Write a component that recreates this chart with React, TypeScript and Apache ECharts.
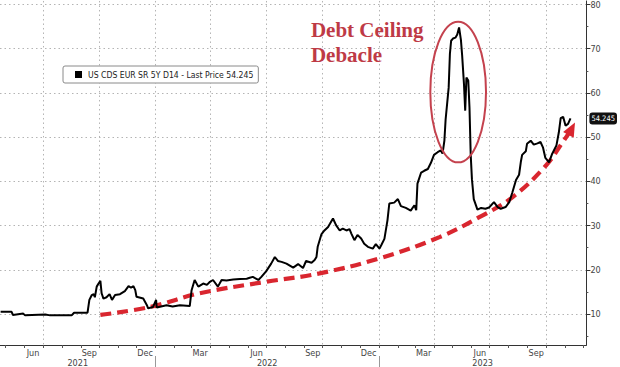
import React, { useEffect, useRef } from "react";
import * as echarts from "echarts";

// ---- data ----
const seriesName = "US CDS EUR SR 5Y D14 - Last Price 54.245";
const lastPrice = 54.245;

const dates = [
  "2021-04-23", "2021-05-11", "2021-05-13", "2021-05-30", "2021-06-02", "2021-07-05", "2021-07-13",
  "2021-08-17", "2021-08-21", "2021-09-12", "2021-09-15", "2021-09-19", "2021-09-22", "2021-09-24",
  "2021-09-27", "2021-09-30", "2021-10-03", "2021-10-05", "2021-10-08", "2021-10-13", "2021-10-18",
  "2021-10-22", "2021-10-27", "2021-11-04", "2021-11-12", "2021-11-18", "2021-11-22", "2021-11-26",
  "2021-11-29", "2021-12-01", "2021-12-12", "2021-12-18", "2021-12-20", "2021-12-28", "2022-01-02",
  "2022-01-03", "2022-01-19", "2022-01-29", "2022-02-10", "2022-02-26", "2022-03-01", "2022-03-06",
  "2022-03-12", "2022-03-20", "2022-03-26", "2022-03-31", "2022-04-05", "2022-04-13", "2022-04-19",
  "2022-04-27", "2022-05-08", "2022-05-19", "2022-05-30", "2022-06-04", "2022-06-09", "2022-06-18",
  "2022-06-23", "2022-07-01", "2022-07-09", "2022-07-15", "2022-07-20", "2022-07-26", "2022-08-03",
  "2022-08-14", "2022-08-22", "2022-08-30", "2022-09-04", "2022-09-13", "2022-09-18", "2022-09-21",
  "2022-09-23", "2022-09-29", "2022-10-04", "2022-10-10", "2022-10-13", "2022-10-18", "2022-10-23",
  "2022-10-29", "2022-11-03", "2022-11-09", "2022-11-14", "2022-11-17", "2022-11-22", "2022-11-27",
  "2022-12-03", "2022-12-08", "2022-12-14", "2022-12-22", "2022-12-27", "2023-01-02", "2023-01-05",
  "2023-01-10", "2023-01-15", "2023-01-18", "2023-01-26", "2023-02-01", "2023-02-06", "2023-02-14",
  "2023-02-22", "2023-02-28", "2023-03-03", "2023-03-05", "2023-03-11", "2023-03-16", "2023-03-22",
  "2023-03-27", "2023-04-01", "2023-04-07", "2023-04-12", "2023-04-15", "2023-04-18", "2023-04-20",
  "2023-04-25", "2023-04-27", "2023-04-29", "2023-05-02", "2023-05-06", "2023-05-09", "2023-05-12",
  "2023-05-15", "2023-05-17", "2023-05-20", "2023-05-22", "2023-05-24", "2023-05-27", "2023-05-29",
  "2023-05-31", "2023-06-02", "2023-06-05", "2023-06-11", "2023-06-17", "2023-06-24", "2023-06-30",
  "2023-07-08", "2023-07-14", "2023-07-19", "2023-07-27", "2023-08-02", "2023-08-07", "2023-08-13",
  "2023-08-18", "2023-08-21", "2023-08-23", "2023-08-29", "2023-08-31", "2023-09-06", "2023-09-11",
  "2023-09-17", "2023-09-22", "2023-09-26", "2023-09-30", "2023-10-06", "2023-10-11", "2023-10-18",
  "2023-10-22", "2023-10-25", "2023-10-29", "2023-11-02", "2023-11-06", "2023-11-10",
];

const cds = [
  10.5, 10.5, 9.8, 10.1, 9.7, 9.9, 9.7,
  9.7, 10.3, 10.3, 13.2, 14.3, 14.5, 13.8,
  16.2, 16.9, 17.5, 14.7, 13.5, 13.8, 14.5,
  13.2, 14.3, 14.5, 15.2, 16.3, 16.0, 16.3,
  15.4, 13.9, 13.5, 12.0, 11.3, 11.6, 13.2,
  11.5, 12.0, 11.7, 12.0, 11.8, 15.4, 17.7,
  16.2, 16.9, 16.6, 17.3, 17.7, 16.2, 17.7,
  17.6, 17.8, 17.9, 18.0, 18.2, 18.4, 17.7,
  18.4, 19.7, 21.4, 22.9, 22.0, 21.8, 21.4,
  20.5, 21.3, 20.4, 22.0, 21.6, 22.2, 22.9,
  25.2, 28.0, 28.9, 29.7, 30.4, 31.6, 30.1,
  28.9, 29.3, 28.9, 29.2, 28.2, 26.7, 27.9,
  27.1, 25.9, 25.2, 24.8, 25.8, 24.8, 25.6,
  27.0, 31.2, 35.0, 35.2, 36.0, 34.4, 34.0,
  33.4, 34.6, 33.5, 39.5, 42.0, 42.4, 42.8,
  44.2, 46.0, 46.6, 47.0, 46.3, 49.2, 54.0,
  61.2, 68.8, 71.8, 72.3, 72.5, 73.2, 74.8,
  72.0, 68.5, 62.0, 56.0, 63.5, 62.8, 56.7,
  46.0, 40.5, 36.0, 33.6, 34.0, 33.8, 34.1,
  35.3, 34.2, 33.8, 34.2, 35.3, 37.5, 40.3,
  41.5, 44.5, 46.0, 46.8, 48.5, 49.2, 48.3,
  48.6, 48.9, 47.7, 45.3, 44.3, 46.2, 48.1,
  51.1, 54.3, 54.6, 52.6, 53.0, 54.245,
];

// red dashed trend arrow (annotation curve)
const trendDates = [
  "2021-10-03", "2021-12-23", "2022-03-14", "2022-07-01", "2022-09-26", "2023-01-02",
  "2023-04-10", "2023-06-14", "2023-08-07", "2023-10-01", "2023-10-28", "2023-11-12",
];
const trendValues = [9.8, 11.6, 14.7, 17.3, 19.2, 22.6, 27.4, 31.9, 36.4, 43.6, 48.8, 51.9];

const yTicks = [10, 20, 30, 40, 50, 60, 70, 80];
const yMinorTicks = [5, 15, 25, 35, 45, 55, 65, 75];
const xStart = "2021-04-22";
const xEnd = "2023-12-06";
const monthLabelDates = [
  "2021-06-15", "2021-09-15", "2021-12-15", "2022-03-15", "2022-06-15",
  "2022-09-15", "2022-12-15", "2023-03-15", "2023-06-15", "2023-09-15",
];
const monthLabelNames = ["Jun", "Sep", "Dec", "Mar", "Jun", "Sep", "Dec", "Mar", "Jun", "Sep"];
const quarterStarts = [
  "2021-07-01", "2021-10-01", "2022-01-01", "2022-04-01", "2022-07-01",
  "2022-10-01", "2023-01-01", "2023-04-01", "2023-07-01", "2023-10-01",
];
const monthStarts = [
  "2021-05-01", "2021-06-01", "2021-07-01", "2021-08-01", "2021-09-01", "2021-10-01", "2021-11-01", "2021-12-01",
  "2022-01-01", "2022-02-01", "2022-03-01", "2022-04-01", "2022-05-01", "2022-06-01", "2022-07-01", "2022-08-01",
  "2022-09-01", "2022-10-01", "2022-11-01", "2022-12-01", "2023-01-01", "2023-02-01", "2023-03-01", "2023-04-01",
  "2023-05-01", "2023-06-01", "2023-07-01", "2023-08-01", "2023-09-01", "2023-10-01", "2023-11-01", "2023-12-01",
];
const yearStarts = ["2022-01-01", "2023-01-01"];
const yearNames = ["2021", "2022", "2023"];

// annotation anchors (data coordinates)
const noteText = "Debt Ceiling\nDebacle";
const noteAnchor = { date: "2022-09-12", value: 77.0 };
const ellipseBox = { from: "2023-03-26", to: "2023-06-25", low: 44.3, high: 76.1 };

const ts = (s: string) => Date.parse(s + "T00:00:00Z");

const AXIS_FONT = "'Liberation Sans Narrow', 'DejaVu Sans Condensed', sans-serif";

export default function App() {
  const ref = useRef<HTMLDivElement>(null);

  useEffect(() => {
    if (!ref.current) return;
    const chart = echarts.init(ref.current, undefined, { renderer: "svg" });

    const xMin = ts(xStart);
    const xMax = ts(xEnd);
    const bounds = [xMin, ...yearStarts.map(ts), xMax];
    const yearCenters = yearNames.map((_, i) => Math.round((bounds[i] + bounds[i + 1]) / 2));
    const monthLabelTs = monthLabelDates.map(ts);

    const lastIdx = trendDates.length - 1;
    const trendData = trendDates.map((d, i) =>
      i === lastIdx
        ? {
            value: [ts(d), trendValues[i]],
            symbol: "triangle",
            symbolSize: [12, 14],
            symbolRotate: -28,
          }
        : { value: [ts(d), trendValues[i]], symbol: "none" }
    );

    const dotted = { color: "#b4b4b4", width: 1, type: [1.5, 3] as any };
    const baseX = { type: "value", min: xMin, max: xMax, position: "bottom", scale: true };

    chart.setOption({
      animation: false,
      backgroundColor: "#ffffff",
      grid: { left: 0, right: 32, top: 0, bottom: 22, containLabel: false },
      legend: {
        data: [seriesName],
        left: 63,
        top: 66,
        icon: "rect",
        itemWidth: 7,
        itemHeight: 7,
        itemGap: 4,
        padding: [4, 5, 4, 12],
        borderColor: "#8a8a8a",
        borderWidth: 1,
        borderRadius: 2,
        backgroundColor: "#ffffff",
        textStyle: { fontSize: 8.6, color: "#222", fontFamily: AXIS_FONT, padding: [0, 0, 0, 1] },
      },
      xAxis: [
        {
          ...baseX,
          axisLine: { show: true, lineStyle: { color: "#333", width: 1 } },
          axisTick: { show: true, customValues: monthStarts.map(ts), length: 3, lineStyle: { color: "#555" } },
          axisLabel: {
            show: true,
            customValues: monthLabelTs,
            formatter: (v: number) => {
              const i = monthLabelTs.indexOf(v);
              return i >= 0 ? monthLabelNames[i] : "";
            },
            fontSize: 9,
            color: "#444",
            fontFamily: AXIS_FONT,
            margin: 3,
          },
          splitLine: { show: false },
        },
        {
          ...baseX,
          axisLine: { show: false },
          axisTick: { show: false, customValues: quarterStarts.map(ts) },
          axisLabel: {
            show: true,
            customValues: yearCenters,
            formatter: (v: number) => {
              const i = yearCenters.indexOf(v);
              return i >= 0 ? yearNames[i] : "";
            },
            fontSize: 9,
            color: "#444",
            fontFamily: AXIS_FONT,
            margin: 13,
          },
          splitLine: { show: true, lineStyle: dotted },
        },
        {
          ...baseX,
          offset: 11,
          axisLine: { show: false },
          axisTick: { show: true, customValues: yearStarts.map(ts), length: 12, lineStyle: { color: "#999" } },
          axisLabel: { show: false },
          splitLine: { show: false },
        },
      ],
      yAxis: [
        {
          type: "value",
          min: 3,
          max: 80.8,
          position: "right",
          axisLine: { show: true, lineStyle: { color: "#333", width: 1 } },
          axisTick: { show: true, customValues: yTicks, length: 4, lineStyle: { color: "#333" } },
          axisLabel: {
            show: true,
            customValues: yTicks,
            fontSize: 9,
            color: "#444",
            fontFamily: AXIS_FONT,
            margin: 4,
          },
          splitLine: { show: true, lineStyle: dotted },
        },
        {
          type: "value",
          min: 3,
          max: 80.8,
          position: "right",
          axisLine: { show: false },
          axisTick: { show: true, customValues: yMinorTicks, length: 2, lineStyle: { color: "#555" } },
          axisLabel: {
            show: true,
            customValues: [lastPrice],
            formatter: () => String(lastPrice),
            backgroundColor: "#111",
            color: "#fff",
            fontSize: 7.5,
            fontFamily: AXIS_FONT,
            padding: [2, 2, 2, 2],
            borderRadius: 3,
            margin: 3,
          },
          splitLine: { show: false },
        },
      ],
      series: [
        {
          name: "trend",
          type: "line",
          xAxisIndex: 0,
          yAxisIndex: 0,
          data: trendData,
          smooth: 0.4,
          showSymbol: true,
          symbol: "none",
          lineStyle: { color: "#d9262f", width: 4.2, type: [11, 6] as any, cap: "butt" },
          itemStyle: { color: "#d9262f" },
          z: 3,
          silent: true,
        },
        {
          name: seriesName,
          type: "line",
          xAxisIndex: 0,
          yAxisIndex: 0,
          data: dates.map((d, i) => [ts(d), cds[i]]),
          showSymbol: false,
          symbol: "none",
          lineStyle: { color: "#000", width: 2 },
          itemStyle: { color: "#000" },
          z: 4,
        },
      ],
    });

    const finder = { xAxisIndex: 0, yAxisIndex: 0 };
    const noteP = chart.convertToPixel(finder as any, [ts(noteAnchor.date), noteAnchor.value]) as number[];
    const eA = chart.convertToPixel(finder as any, [ts(ellipseBox.from), ellipseBox.high]) as number[];
    const eB = chart.convertToPixel(finder as any, [ts(ellipseBox.to), ellipseBox.low]) as number[];

    chart.setOption({
      graphic: [
        {
          type: "ellipse",
          shape: {
            cx: (eA[0] + eB[0]) / 2,
            cy: (eA[1] + eB[1]) / 2,
            rx: Math.abs(eB[0] - eA[0]) / 2,
            ry: Math.abs(eB[1] - eA[1]) / 2,
          },
          style: { fill: "none", stroke: "#c4424e", lineWidth: 2 },
          z: 10,
          silent: true,
        },
        {
          type: "text",
          x: noteP[0],
          y: noteP[1],
          style: {
            text: noteText,
            fill: "#be3a46",
            font: "bold 21px 'Liberation Serif', 'DejaVu Serif', serif",
            lineHeight: 25,
          },
          z: 10,
          silent: true,
        },
      ],
    });

    return () => chart.dispose();
  }, []);

  return (
    <div
      ref={ref}
      style={{ position: "fixed", left: 0, top: 0, width: 620, height: 367, background: "#fff" }}
    />
  );
}
